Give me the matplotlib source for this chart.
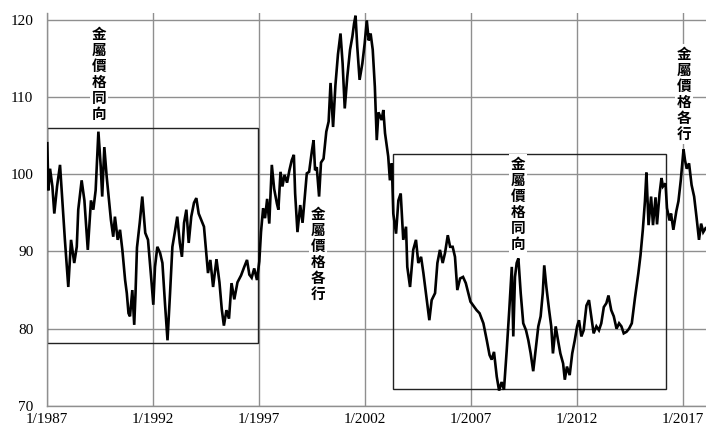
import matplotlib
matplotlib.use("Agg")
import matplotlib.pyplot as plt
from matplotlib.patches import Rectangle

# ---- data (decimal year, index value) ----
years = [
    1987.00, 1987.05, 1987.13, 1987.24, 1987.33, 1987.46, 1987.60, 1987.71, 1987.83, 1987.99,
    1988.12, 1988.27, 1988.39, 1988.46, 1988.62, 1988.75, 1988.91, 1989.06, 1989.17, 1989.28,
    1989.41, 1989.52, 1989.59, 1989.69, 1989.80, 1989.91, 1990.00, 1990.11, 1990.19, 1990.32,
    1990.43, 1990.54, 1990.67, 1990.75, 1990.83, 1990.90, 1991.01, 1991.10, 1991.16, 1991.23,
    1991.36, 1991.48, 1991.62, 1991.75, 1991.83, 1991.92, 1992.00, 1992.08, 1992.19, 1992.32,
    1992.43, 1992.55, 1992.67, 1992.79, 1992.90, 1993.01, 1993.13, 1993.25, 1993.35, 1993.45,
    1993.56, 1993.67, 1993.79, 1993.92, 1994.03, 1994.14, 1994.26, 1994.39, 1994.50, 1994.58,
    1994.69, 1994.82, 1994.98, 1995.12, 1995.23, 1995.33, 1995.45, 1995.57, 1995.69, 1995.82,
    1995.97, 1996.14, 1996.29, 1996.42, 1996.53, 1996.64, 1996.76, 1996.89, 1997.00, 1997.08,
    1997.18, 1997.27, 1997.37, 1997.47, 1997.59, 1997.70, 1997.83, 1997.90, 1998.00, 1998.09,
    1998.19, 1998.31, 1998.42, 1998.53, 1998.63, 1998.69, 1998.80, 1998.93, 1999.04, 1999.16,
    1999.24, 1999.35, 1999.48, 1999.56, 1999.63, 1999.71, 1999.82, 1999.91, 2000.03, 2000.16,
    2000.27, 2000.36, 2000.48, 2000.59, 2000.71, 2000.83, 2000.93, 2001.03, 2001.15, 2001.28,
    2001.39, 2001.47, 2001.54, 2001.62, 2001.73, 2001.86, 2001.97, 2002.07, 2002.16, 2002.25,
    2002.35, 2002.45, 2002.54, 2002.62, 2002.77, 2002.85, 2002.93, 2003.08, 2003.16, 2003.25,
    2003.32, 2003.45, 2003.56, 2003.67, 2003.79, 2003.92, 2003.98, 2004.11, 2004.26, 2004.39,
    2004.50, 2004.63, 2004.74, 2004.86, 2005.02, 2005.13, 2005.29, 2005.40, 2005.52, 2005.65,
    2005.76, 2005.89, 2006.00, 2006.12, 2006.23, 2006.34, 2006.47, 2006.61, 2006.74, 2006.86,
    2006.96, 2007.09, 2007.25, 2007.39, 2007.57, 2007.73, 2007.86, 2007.96, 2008.07, 2008.20,
    2008.31, 2008.43, 2008.54, 2008.67, 2008.79, 2008.91, 2008.98, 2009.06, 2009.14, 2009.22,
    2009.33, 2009.45, 2009.58, 2009.69, 2009.80, 2009.92, 2010.05, 2010.16, 2010.27, 2010.37,
    2010.44, 2010.54, 2010.67, 2010.77, 2010.85, 2010.98, 2011.09, 2011.20, 2011.33, 2011.41,
    2011.51, 2011.64, 2011.76, 2011.88, 2011.99, 2012.08, 2012.19, 2012.30, 2012.43, 2012.55,
    2012.66, 2012.77, 2012.90, 2013.02, 2013.13, 2013.25, 2013.37, 2013.47, 2013.60, 2013.72,
    2013.85, 2013.97, 2014.08, 2014.19, 2014.32, 2014.44, 2014.57, 2014.72, 2014.88, 2014.98,
    2015.09, 2015.19, 2015.26, 2015.36, 2015.48, 2015.57, 2015.69, 2015.76, 2015.88, 2015.97,
    2016.04, 2016.16, 2016.23, 2016.35, 2016.42, 2016.53, 2016.67, 2016.77, 2016.88, 2017.01,
    2017.08, 2017.16, 2017.27, 2017.39, 2017.51, 2017.62, 2017.74, 2017.84, 2017.94, 2018.05,
]
values = [
    104.0, 97.9, 100.7, 98.4, 94.9, 98.4, 101.2, 96.6, 91.5, 85.4,
    91.5, 88.5, 90.6, 95.4, 99.2, 96.6, 90.2, 96.6, 95.4, 97.9,
    105.5, 101.0, 97.1, 103.5, 99.7, 96.6, 94.1, 91.9, 94.5, 91.5,
    92.8, 90.2, 86.3, 84.6, 82.0, 81.6, 85.0, 80.5, 84.5, 90.5,
    93.7, 97.1, 92.4, 91.5, 88.9, 85.9, 83.1, 88.0, 90.6, 89.8,
    88.5, 83.3, 78.5, 84.6, 90.6, 92.4, 94.5, 91.1, 89.3, 93.7,
    95.4, 91.1, 94.5, 96.3, 96.9, 94.9, 94.1, 93.2, 89.8, 87.2,
    88.9, 85.4, 89.0, 86.0, 82.5, 80.4, 82.4, 81.3, 85.9, 83.8,
    86.0, 86.9, 88.0, 88.9, 87.0, 86.6, 87.8, 86.3, 88.7, 92.5,
    95.6, 94.3, 96.8, 93.6, 101.2, 98.1, 96.2, 95.4, 100.3, 98.4,
    99.9, 98.9, 100.5, 101.8, 102.5, 97.5, 92.5, 96.0, 93.7, 97.5,
    100.1, 100.3, 103.0, 104.4, 100.5, 100.9, 97.1, 101.5, 102.0, 105.5,
    106.8, 111.8, 106.1, 111.5, 115.5, 118.2, 114.3, 108.5, 112.6, 116.1,
    117.8, 119.5, 120.5, 116.5, 112.2, 114.3, 116.9, 119.9, 117.3, 118.2,
    116.1, 111.3, 104.4, 108.0, 107.0, 108.3, 105.3, 102.3, 99.2, 101.4,
    94.9, 92.3, 96.6, 97.5, 91.5, 93.2, 88.0, 85.4, 90.2, 91.5,
    88.5, 89.3, 87.2, 84.6, 81.1, 83.7, 84.6, 88.5, 90.2, 88.5,
    89.8, 92.1, 90.6, 90.6, 89.3, 85.0, 86.5, 86.7, 85.9, 84.6,
    83.5, 83.0, 82.4, 82.0, 80.7, 78.5, 76.6, 76.0, 77.0, 73.8,
    72.0, 73.1, 72.1, 77.2, 82.4, 88.0, 79.0, 86.7, 88.5, 89.1,
    84.6, 80.7, 79.8, 78.5, 76.8, 74.5, 77.7, 80.3, 81.6, 84.6,
    88.2, 85.4, 82.4, 80.3, 76.8, 80.3, 78.5, 76.8, 75.5, 73.4,
    75.1, 74.0, 76.8, 78.5, 80.3, 81.1, 79.0, 79.8, 83.0, 83.7,
    81.6, 79.4, 80.3, 79.8, 80.7, 82.8, 83.3, 84.3, 82.4, 81.6,
    80.0, 80.7, 80.3, 79.4, 79.6, 80.0, 80.7, 84.0, 87.2, 89.5,
    92.8, 96.5, 100.2, 93.4, 97.1, 93.4, 97.0, 93.5, 97.5, 99.5,
    98.4, 98.8, 95.6, 94.0, 94.9, 92.8, 95.2, 96.5, 99.2, 103.2,
    101.8, 100.7, 101.4, 98.6, 97.1, 94.5, 91.5, 93.6, 92.5, 93.0,
]

tick_years = [1987, 1992, 1997, 2002, 2007, 2012, 2017]
tick_labels = ["1/1987", "1/1992", "1/1997", "1/2002", "1/2007", "1/2012", "1/2017"]
y_ticks = [70, 80, 90, 100, 110, 120]

# regimes: (start year, end year, low, high)
box_starts = [1987.0, 2003.29]
box_ends = [1996.92, 2016.18]
box_lows = [78.1, 72.2]
box_highs = [106.0, 102.6]

note_texts = ["金屬價格同向", "金屬價格各行", "金屬價格同向", "金屬價格各行"]
note_x = [1989.44, 1999.77, 2009.20, 2017.03]
note_y = [112.95, 89.66, 96.13, 110.40]

# ---- figure ----
fig = plt.figure(figsize=(7.06, 4.32), dpi=100)
ax = fig.add_axes([47.3 / 706, 26 / 432, 1 - 47.3 / 706, (406 - 13) / 432])

grid_c = "#8f8f8f"
ax.plot(years, values, color="black", lw=1.9, zorder=3, solid_joinstyle="miter")

ax.set_xlim(1987.0, 2018.07)
ax.set_ylim(70, 120.85)
ax.set_xticks(tick_years)
ax.set_xticklabels(tick_labels)
ax.set_yticks(y_ticks)
ax.grid(True, color=grid_c, lw=1.0, zorder=0)
ax.set_axisbelow(True)

for s in ["top", "right"]:
    ax.spines[s].set_visible(False)
for s in ["left", "bottom"]:
    ax.spines[s].set_color(grid_c)
    ax.spines[s].set_linewidth(1.0)

ax.tick_params(axis="both", length=0, labelsize=11)
ax.tick_params(axis="y", pad=10)
ax.tick_params(axis="x", pad=5)
for lab in ax.get_xticklabels() + ax.get_yticklabels():
    lab.set_fontfamily(["Liberation Serif", "DejaVu Serif"])

for x0, x1, lo, hi in zip(box_starts, box_ends, box_lows, box_highs):
    ax.add_patch(Rectangle((x0, lo), x1 - x0, hi - lo, fill=False,
                           edgecolor="#222222", lw=1.0, zorder=2))

for t, x, y in zip(note_texts, note_x, note_y):
    ax.text(x, y, "\n".join(t), ha="center", va="center", fontsize=10.5,
            fontweight="bold", linespacing=1.0,
            family=["Noto Sans CJK TC", "DejaVu Sans"], zorder=4,
            bbox=dict(facecolor="white", edgecolor="none", pad=1.5))

fig.savefig("out.png", dpi=100)
